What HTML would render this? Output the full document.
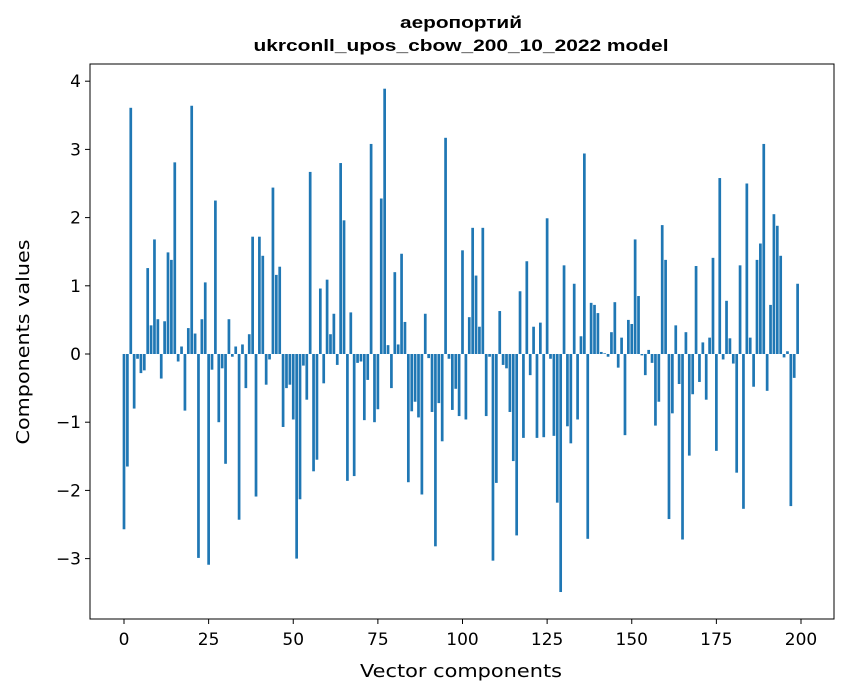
<!DOCTYPE html>
<html><head><meta charset="utf-8"><style>
body{margin:0;background:#fff;}
svg{display:block;}
</style></head><body>
<svg id="chart" width="847" height="696" xmlns="http://www.w3.org/2000/svg">
<rect width="847" height="696" fill="#fff"/>
<text x="461" y="28" text-anchor="middle" font-family="Liberation Sans, sans-serif" font-weight="bold" font-size="17" textLength="122" lengthAdjust="spacingAndGlyphs">аеропортий</text>
<text x="461" y="51" text-anchor="middle" font-family="Liberation Sans, sans-serif" font-weight="bold" font-size="17" textLength="415" lengthAdjust="spacingAndGlyphs">ukrconll_upos_cbow_200_10_2022 model</text>
<g id="bars"></g>
<g id="axes"></g>
<rect x="90" y="64" width="744" height="555" fill="none" stroke="#000" stroke-width="1"/>
<text x="461" y="677" text-anchor="middle" font-family="DejaVu Sans, sans-serif" font-size="18" textLength="202" lengthAdjust="spacingAndGlyphs">Vector components</text>
<text transform="translate(29,342) rotate(-90)" text-anchor="middle" font-family="DejaVu Sans, sans-serif" font-size="18" textLength="205" lengthAdjust="spacingAndGlyphs">Components values</text>
</svg>
<script>
const values = [
-2.57,-1.65,3.61,-0.8,-0.07,-0.28,-0.24,1.26,0.42,1.68,0.51,-0.36,0.48,1.49,1.38,2.81,-0.11,0.11,-0.83,0.38,
3.64,0.3,-2.99,0.51,1.05,-3.09,-0.23,2.25,-1.0,-0.21,-1.61,0.51,-0.04,0.11,-2.43,0.14,-0.5,0.29,1.72,-2.09,
1.72,1.44,-0.45,-0.08,2.44,1.16,1.28,-1.07,-0.5,-0.45,-0.96,-3.0,-2.13,-0.17,-0.67,2.67,-1.72,-1.55,0.96,-0.43,
1.09,0.29,0.59,-0.16,2.8,1.96,-1.86,0.61,-1.79,-0.13,-0.11,-0.97,-0.38,3.08,-1.0,-0.81,2.28,3.89,0.13,-0.5,
1.2,0.14,1.47,0.47,-1.88,-0.84,-0.7,-0.93,-2.06,0.59,-0.06,-0.85,-2.82,-0.72,-1.28,3.17,-0.07,-0.82,-0.51,-0.91,
1.52,-0.96,0.54,1.85,1.15,0.4,1.85,-0.91,-0.04,-3.03,-1.89,0.63,-0.16,-0.21,-0.85,-1.57,-2.66,0.92,-1.23,1.36,
-0.31,0.4,-1.23,0.46,-1.22,1.99,-0.07,-1.2,-2.18,-3.49,1.3,-1.06,-1.31,1.03,-0.96,0.26,2.94,-2.71,0.75,0.72,
0.6,0.03,0.01,-0.04,0.32,0.76,-0.2,0.24,-1.19,0.5,0.44,1.68,0.85,-0.02,-0.31,0.06,-0.13,-1.05,-0.7,1.89,
1.38,-2.42,-0.87,0.42,-0.44,-2.72,0.32,-1.49,-0.59,1.29,-0.41,0.17,-0.67,0.24,1.41,-1.42,2.58,-0.08,0.78,0.23,
-0.14,-1.74,1.3,-2.27,2.5,0.24,-0.48,1.38,1.62,3.08,-0.54,0.72,2.05,1.88,1.44,-0.05,0.04,-2.23,-0.35,1.03
];
const xTicks = [0,25,50,75,100,125,150,175,200];
const yTicks = [-3,-2,-1,0,1,2,3,4];
const NS = "http://www.w3.org/2000/svg";
function xScale(v){ return 124 + 3.385*v; }
function yScale(v){ return 354 - 68.2*v; }
const bars = document.getElementById('bars');
values.forEach((v,i)=>{
  const r = document.createElementNS(NS,'rect');
  const bw = 0.8*3.385;
  r.setAttribute('x', xScale(i)-bw/2);
  r.setAttribute('width', bw);
  r.setAttribute('y', Math.min(yScale(v), yScale(0)));
  r.setAttribute('height', Math.abs(yScale(v)-yScale(0)));
  r.setAttribute('fill', '#1f77b4');
  
  
  bars.appendChild(r);
});
const axes = document.getElementById('axes');
xTicks.forEach(t=>{
  const x = xScale(t);
  const l = document.createElementNS(NS,'line');
  l.setAttribute('x1',x); l.setAttribute('x2',x); l.setAttribute('y1',619); l.setAttribute('y2',624);
  l.setAttribute('stroke','#000');
  
  
  axes.appendChild(l);
  const tx = document.createElementNS(NS,'text');
  tx.setAttribute('x',x); tx.setAttribute('y',645); tx.setAttribute('text-anchor','middle');
  tx.setAttribute('font-family','DejaVu Sans, sans-serif'); tx.setAttribute('font-size','17');
  tx.textContent = String(t);
  
  
  axes.appendChild(tx);
});
yTicks.forEach(t=>{
  const y = yScale(t);
  const l = document.createElementNS(NS,'line');
  l.setAttribute('x1',85); l.setAttribute('x2',90); l.setAttribute('y1',y); l.setAttribute('y2',y);
  l.setAttribute('stroke','#000');
  
  
  axes.appendChild(l);
  const tx = document.createElementNS(NS,'text');
  tx.setAttribute('x',81); tx.setAttribute('y',y+6); tx.setAttribute('text-anchor','end');
  tx.setAttribute('font-family','DejaVu Sans, sans-serif'); tx.setAttribute('font-size','17');
  tx.textContent = t<0 ? '\u2212'+Math.abs(t) : String(t);
  
  
  axes.appendChild(tx);
});
</script>
</body></html>
